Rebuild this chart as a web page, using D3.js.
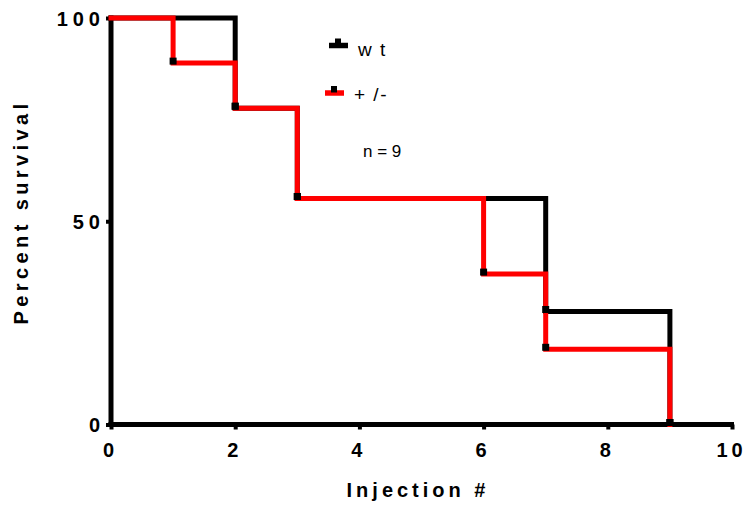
<!DOCTYPE html>
<html>
<head>
<meta charset="utf-8">
<script src="https://cdn.jsdelivr.net/npm/d3@7"></script>
<style>
  html, body { margin: 0; padding: 0; background: #fff; }
  svg { display: block; }
  text { font-family: "Liberation Sans", Arial, sans-serif; }
</style>
</head>
<body>
<script>
// Kaplan-Meier survival by injection number
const wtTimes = [0, 2, 3, 7, 9];
const wtSurvival = [100, 77.8, 55.6, 27.8, 0];
const hetTimes = [0, 1, 2, 3, 6, 7, 9];
const hetSurvival = [100, 88.9, 77.8, 55.6, 37.0, 18.5, 0];
const xTicks = [0, 2, 4, 6, 8, 10];
const yTicks = [0, 50, 100];
const seriesNames = ["w t", "+ /-"];
const seriesColors = ["#000000", "#ff0000"];
const noteText = "n = 9";

const W = 747, H = 506;
const svg = d3.select("body").append("svg").attr("width", W).attr("height", H);

const x = d3.scaleLinear().domain([0, 10]).range([111, 732]);
const y = d3.scaleLinear().domain([0, 100]).range([424.5, 18]);

const series = [
  { name: seriesNames[0], color: seriesColors[0], pts: wtTimes.map((t, i) => [t, wtSurvival[i]]) },
  { name: seriesNames[1], color: seriesColors[1], pts: hetTimes.map((t, i) => [t, hetSurvival[i]]) }
];

// axes
const xAxis = d3.axisBottom(x).tickValues(xTicks).tickSize(5).tickPadding(13).tickFormat(d3.format("d"));
const yAxis = d3.axisLeft(y).tickValues(yTicks).tickSize(5).tickPadding(1).tickFormat(d3.format("d"));

const gx = svg.append("g").attr("transform", `translate(0,${y(0)})`).call(xAxis);
const gy = svg.append("g").attr("transform", `translate(${x(0)},0)`).call(yAxis);

[gx, gy].forEach(g => {
  g.select(".domain").remove();
  g.selectAll(".tick line").attr("stroke", "#000").attr("stroke-width", 4);
  g.selectAll(".tick text")
    .attr("fill", "#000")
    .style("font-size", "20px")
    .style("font-weight", "bold")
    .style("letter-spacing", "5px");
});
gx.selectAll(".tick text").style("letter-spacing", "4px").attr("dx", "-1px");
gy.selectAll(".tick text").attr("dy", "0.36em");

// axis lines
svg.append("line")
  .attr("x1", x(0) - 2.5).attr("x2", x(10) + 2)
  .attr("y1", y(0)).attr("y2", y(0))
  .attr("stroke", "#000").attr("stroke-width", 5);
svg.append("line")
  .attr("x1", x(0)).attr("x2", x(0))
  .attr("y1", y(0)).attr("y2", y(100) - 2.5)
  .attr("stroke", "#000").attr("stroke-width", 5);

// survival steps
const line = d3.line().x(d => x(d[0])).y(d => y(d[1])).curve(d3.curveStepAfter);
series.forEach(s => {
  svg.append("path")
    .attr("d", line(s.pts))
    .attr("fill", "none")
    .attr("stroke", s.color)
    .attr("stroke-width", 5)
    .attr("stroke-linejoin", "miter")
    .attr("stroke-linecap", "square");
});

// event markers
const mk = 7;
series.forEach(s => {
  svg.append("g").selectAll("rect")
    .data(s.pts.slice(1))
    .join("rect")
    .attr("x", d => x(d[0]) - mk / 2)
    .attr("y", d => y(d[1]) - mk + 1.5)
    .attr("width", mk).attr("height", mk)
    .attr("fill", "#000");
});

// legend
const legend = [
  { x0: 329, x1: 348, ly: 45.5, tx: 358, ty: 56 },
  { x0: 325, x1: 344, ly: 93, tx: 354, ty: 101 }
];
series.forEach((s, i) => {
  const L = legend[i];
  svg.append("line")
    .attr("x1", L.x0).attr("x2", L.x1).attr("y1", L.ly).attr("y2", L.ly)
    .attr("stroke", s.color).attr("stroke-width", 5.5);
  svg.append("rect")
    .attr("x", (L.x0 + L.x1) / 2 - 3.5).attr("y", L.ly - 7)
    .attr("width", 6).attr("height", 6.5).attr("fill", "#000");
  svg.append("text")
    .attr("x", L.tx).attr("y", L.ty)
    .style("font-size", "19px")
    .style("letter-spacing", "1.5px")
    .attr("fill", "#000")
    .text(s.name);
});

svg.append("text")
  .attr("x", 363).attr("y", 157)
  .style("font-size", "17px")
  .attr("fill", "#000")
  .text(noteText);

// axis titles
svg.append("text")
  .attr("x", 418).attr("y", 497)
  .attr("text-anchor", "middle")
  .style("font-size", "20px").style("font-weight", "bold").style("letter-spacing", "4px")
  .text("Injection #");

svg.append("text")
  .attr("transform", `translate(28,212) rotate(-90)`)
  .attr("text-anchor", "middle")
  .style("font-size", "20px").style("font-weight", "bold").style("letter-spacing", "4.4px")
  .text("Percent survival");
</script>
</body>
</html>
